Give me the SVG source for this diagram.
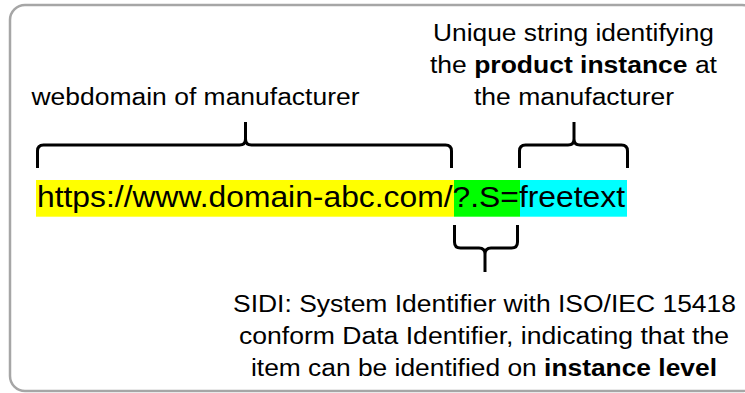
<svg xmlns="http://www.w3.org/2000/svg" width="745" height="393" viewBox="0 0 745 393">
<style>
  .lbl { font-family: "Liberation Sans", Arial, sans-serif; font-size: 23.5px; fill: #000; }
  .url { font-family: "Liberation Sans", Arial, sans-serif; font-size: 29px; fill: #000; }
  .b { font-weight: bold; }
  .brace { fill: none; stroke: #000; stroke-width: 3; stroke-linejoin: round; stroke-linecap: butt; }
</style>
<rect id="frame" x="10" y="5" width="747" height="386" rx="15" ry="15" fill="#fff" stroke="#a6a6a6" stroke-width="2.5"/>

<g id="url">
  <rect x="36" y="180" width="418" height="36.7" fill="#ffff00"/>
  <rect x="454" y="180" width="66" height="36.7" fill="#00ff00"/>
  <rect x="520" y="180" width="107" height="36.7" fill="#00ffff"/>
  <text class="url" x="37" y="207" textLength="588" lengthAdjust="spacingAndGlyphs">https://www.domain-abc.com/?.S=freetext</text>
</g>

<g id="label-webdomain">
  <text class="lbl" x="195.5" y="105" text-anchor="middle" textLength="328" lengthAdjust="spacingAndGlyphs">webdomain of manufacturer</text>
</g>

<g id="label-unique">
  <text class="lbl" x="573.5" y="41" text-anchor="middle" textLength="281" lengthAdjust="spacingAndGlyphs">Unique string identifying</text>
  <text class="lbl" x="573.5" y="73" text-anchor="middle" textLength="287" lengthAdjust="spacingAndGlyphs">the <tspan class="b">product instance</tspan> at</text>
  <text class="lbl" x="574" y="105" text-anchor="middle" textLength="200" lengthAdjust="spacingAndGlyphs">the manufacturer</text>
</g>

<g id="label-sidi">
  <text class="lbl" x="484.5" y="312" text-anchor="middle" textLength="503" lengthAdjust="spacingAndGlyphs">SIDI: System Identifier with ISO/IEC 15418</text>
  <text class="lbl" x="484" y="344" text-anchor="middle" textLength="490" lengthAdjust="spacingAndGlyphs">conform Data Identifier, indicating that the</text>
  <text class="lbl" x="484" y="376" text-anchor="middle" textLength="466" lengthAdjust="spacingAndGlyphs">item can be identified on <tspan class="b">instance level</tspan></text>
</g>

<g id="connectors">
  <path class="brace" d="M37.5,168 V151 Q37.5,145 43.5,145 H239.5 Q245.5,145 245.5,139 V122 M245.5,139 Q245.5,145 251.5,145 H445.5 Q451.5,145 451.5,151 V168"/>
  <path class="brace" d="M519.5,168 V151 Q519.5,145 525.5,145 H568 Q574,145 574,139 V122 M574,139 Q574,145 580,145 H621.5 Q627.5,145 627.5,151 V168"/>
  <path class="brace" d="M454.5,225 V242 Q454.5,248 460.5,248 H479 Q485,248 485,254 V272 M485,254 Q485,248 491,248 H511.5 Q517.5,248 517.5,242 V225"/>
</g>
</svg>
